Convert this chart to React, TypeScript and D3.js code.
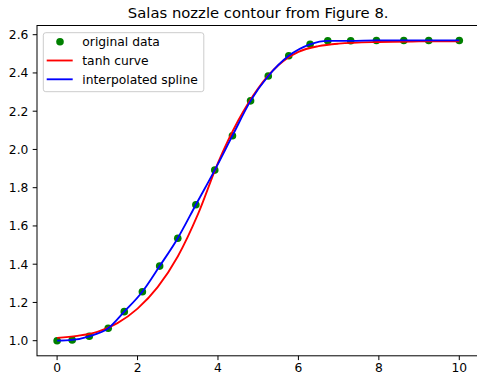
import React from "react";
import * as d3 from "d3";

const dataX = [0, 0.375, 0.8, 1.27, 1.67, 2.12, 2.55, 3.0, 3.45, 3.92, 4.36, 4.81, 5.25, 5.76, 6.29, 6.73, 7.3, 7.94, 8.62, 9.24, 10.0];
const dataY = [1.0, 1.004, 1.023, 1.065, 1.152, 1.256, 1.39, 1.536, 1.711, 1.892, 2.072, 2.254, 2.384, 2.49, 2.55, 2.568, 2.568, 2.57, 2.57, 2.57, 2.57];

const tanhX = [0, 0.5, 1.0, 1.5, 2.0, 2.5, 3.0, 3.5, 4.0, 4.5, 5.0, 5.5, 6.0, 6.5, 7.0, 8.0, 9.0, 10.0];
const tanhY = [1.015, 1.025, 1.046, 1.092, 1.168, 1.28, 1.44, 1.66, 1.93, 2.15, 2.32, 2.44, 2.51, 2.54, 2.553, 2.562, 2.565, 2.566];

const xTicks = [0, 2, 4, 6, 8, 10];
const yTicks = [1.0, 1.2, 1.4, 1.6, 1.8, 2.0, 2.2, 2.4, 2.6];

const legendLabels = ["original data", "tanh curve", "interpolated spline"];
const title = "Salas nozzle contour from Figure 8.";

const W = 477, H = 375;
const left = 37, right = 479.4, top = 25.5, bottom = 355.8;
const FONT = "DejaVu Sans, sans-serif";

export default function App() {
  const x = d3.scaleLinear().domain([-0.5, 10.5]).range([left, right]);
  const y = d3.scaleLinear().domain([1.0, 2.6]).range([340.7, 34.7]);

  const pts = dataX.map((v, i) => [v, dataY[i]] as [number, number]);
  const tpts = tanhX.map((v, i) => [v, tanhY[i]] as [number, number]);

  const line = d3.line<[number, number]>()
    .x((d) => x(d[0]))
    .y((d) => y(d[1]))
    .curve(d3.curveMonotoneX);

  const tickLen = 4.3;
  const fs = 12.3;

  return (
    <svg width={W} height={H} style={{ position: "fixed", left: 0, top: 0, background: "#fff" }} fontFamily={FONT}>
      <rect x={0} y={0} width={W} height={H} fill="#fff" />
      <defs>
        <clipPath id="plotclip">
          <rect x={left} y={top} width={right - left} height={bottom - top} />
        </clipPath>
      </defs>
      <text x={(left + right) / 2} y={18} textAnchor="middle" fontSize={14.8} fill="#000">{title}</text>

      <g clipPath="url(#plotclip)">
        {pts.map((d, i) => (
          <circle key={i} cx={x(d[0])} cy={y(d[1])} r={3.8} fill="#008000" />
        ))}
        <path d={line(tpts) || ""} fill="none" stroke="#ff0000" strokeWidth={1.85} />
        <path d={line(pts) || ""} fill="none" stroke="#0000ff" strokeWidth={1.85} />
      </g>

      {/* spines */}
      <rect x={left} y={top} width={right - left} height={bottom - top} fill="none" stroke="#000" strokeWidth={1} />

      {/* x ticks */}
      {xTicks.map((t) => (
        <g key={"x" + t}>
          <line x1={x(t)} x2={x(t)} y1={bottom} y2={bottom + tickLen} stroke="#000" strokeWidth={1} />
          <text x={x(t)} y={371.6} textAnchor="middle" fontSize={fs} fill="#000">{t}</text>
        </g>
      ))}
      {/* y ticks */}
      {yTicks.map((t) => (
        <g key={"y" + t}>
          <line x1={left - tickLen} x2={left} y1={y(t)} y2={y(t)} stroke="#000" strokeWidth={1} />
          <text x={left - tickLen - 4.3} y={y(t)} dy="0.36em" textAnchor="end" fontSize={fs} fill="#000">{t.toFixed(1)}</text>
        </g>
      ))}

      {/* legend */}
      <g>
        <rect x={43.3} y={32.7} width={160.5} height={59} rx={2.5} fill="#fff" fillOpacity={0.8} stroke="#cccccc" strokeWidth={1} />
        <circle cx={60} cy={41.7} r={3.8} fill="#008000" />
        <line x1={46.7} x2={72.7} y1={60.5} y2={60.5} stroke="#ff0000" strokeWidth={1.85} />
        <line x1={46.7} x2={72.7} y1={79.3} y2={79.3} stroke="#0000ff" strokeWidth={1.85} />
        {legendLabels.map((l, i) => (
          <text key={l} x={82.3} y={41.7 + i * 18.8} dy="0.36em" fontSize={fs} fill="#000">{l}</text>
        ))}
      </g>
    </svg>
  );
}
